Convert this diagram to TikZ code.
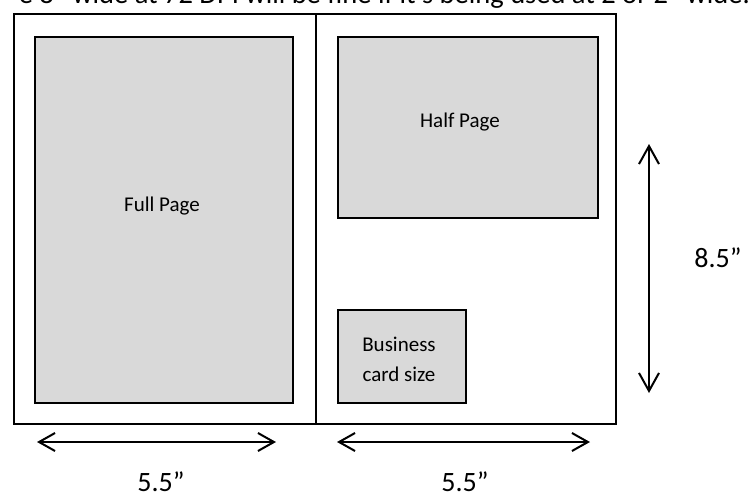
\documentclass[tikz,border=0pt]{standalone}
\usepackage{fontspec}
\setmainfont{Carlito}
\usetikzlibrary{arrows.meta}
\definecolor{boxgray}{HTML}{D9D9D9}
\tikzset{
  page/.style={draw=black, line width=2pt, fill=white, inner sep=0pt, anchor=north west},
  adbox/.style={draw=black, line width=2pt, fill=boxgray, inner sep=0pt, anchor=north west},
  lbl/.style={font=\fontsize{21}{30}\selectfont, inner sep=0pt, align=center},
  dim/.style={font=\fontsize{28}{32}\selectfont, inner sep=0pt, anchor=base},
  dimarrow/.style={line width=2pt, {Straight Barb[length=16pt,width=18pt,line width=2pt]}-{Straight Barb[length=16pt,width=18pt,line width=2pt]}},
  vdimarrow/.style={line width=2pt, {Straight Barb[length=18pt,width=20pt,line width=2pt]}-{Straight Barb[length=18pt,width=20pt,line width=2pt]}}
}
\begin{document}
\begin{tikzpicture}[x=1pt,y=-1pt]
\useasboundingbox (0,0) rectangle (748,496);
\clip (0,0) rectangle (748,496);
\fill[white] (0,0) rectangle (748,496);
% cut-off text line at the top
\node[font=\fontsize{28.5}{32}\selectfont, anchor=base east, inner sep=0pt] (toptext) at (750,3) {e 8” wide at 72 DPI will be fine if it’s being used at 2 or 2” wide.};
% pages
\node[page, minimum width=302pt, minimum height=410pt] (leftpage) at (13,13) {};
\node[page, minimum width=300pt, minimum height=410pt] (rightpage) at (315,13) {};
% ad boxes
\node[adbox, minimum width=258pt, minimum height=366pt] (full) at (34,36) {};
\node[adbox, minimum width=260pt, minimum height=181pt] (half) at (337,36) {};
\node[adbox, minimum width=128pt, minimum height=93pt] (card) at (337,309) {};
% labels
\node[lbl] (fulltxt) at (162,206) {Full Page};
\node[lbl] (halftxt) at (460,122) {Half Page};
\node[lbl] (cardtxt) at (399,359) {Business\\card size};
% dimension arrows
\coordinate (h1a) at (37,442);
\coordinate (h1b) at (276,442);
\coordinate (h2a) at (337,442);
\coordinate (h2b) at (590,442);
\coordinate (v1a) at (649,144);
\coordinate (v1b) at (649,393);
\draw[dimarrow] (h1a) -- (h1b);
\draw[dimarrow] (h2a) -- (h2b);
\draw[vdimarrow] (v1a) -- (v1b);
\node[dim] (w1) at (161,491) {5.5”};
\node[dim] (w2) at (465,491) {5.5”};
\node[dim] (h1) at (718,267) {8.5”};
\end{tikzpicture}
\end{document}
